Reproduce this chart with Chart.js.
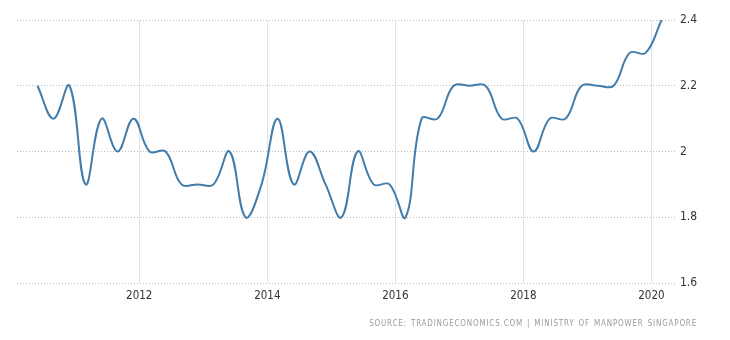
<!DOCTYPE html>
<html>
<head>
<meta charset="utf-8">
<script src="https://cdn.jsdelivr.net/npm/chart.js@4/dist/chart.umd.min.js"></script>
<style>
    html, body { margin: 0; padding: 0; background: #fff; }
    #caja { position: relative; width: 730px; height: 340px; }
    #fuente {
        position: absolute; right: 33px; top: 319px;
        font-family: "DejaVu Sans Condensed", "DejaVu Sans", sans-serif; font-size: 8px;
        letter-spacing: 0.8px; word-spacing: 1px; color: #9a9a9a; white-space: nowrap;
    }
</style>
</head>
<body>
<div id="caja">
    <canvas id="grafica" width="730" height="340"></canvas>
    <div id="fuente">SOURCE: TRADINGECONOMICS.COM | MINISTRY OF MANPOWER SINGAPORE</div>
</div>
<script>
const trimestres = [
    "2010Q2", "2010Q3", "2010Q4", "2011Q1", "2011Q2", "2011Q3", "2011Q4", "2012Q1",
    "2012Q2", "2012Q3", "2012Q4", "2013Q1", "2013Q2", "2013Q3", "2013Q4", "2014Q1",
    "2014Q2", "2014Q3", "2014Q4", "2015Q1", "2015Q2", "2015Q3", "2015Q4", "2016Q1",
    "2016Q2", "2016Q3", "2016Q4", "2017Q1", "2017Q2", "2017Q3", "2017Q4", "2018Q1",
    "2018Q2", "2018Q3", "2018Q4", "2019Q1", "2019Q2", "2019Q3", "2019Q4", "2020Q1"
];
const desempleo = [
    2.2, 2.1, 2.2, 1.9, 2.1, 2.0, 2.1, 2.0,
    2.0, 1.9, 1.9, 1.9, 2.0, 1.8, 1.9, 2.1,
    1.9, 2.0, 1.9, 1.8, 2.0, 1.9, 1.9, 1.8,
    2.1, 2.1, 2.2, 2.2, 2.2, 2.1, 2.1, 2.0,
    2.1, 2.1, 2.2, 2.2, 2.2, 2.3, 2.3, 2.4
];
const anios = [2012, 2014, 2016, 2018, 2020];
const valoresY = [1.6, 1.8, 2, 2.2, 2.4];

const letra = "'DejaVu Sans Condensed', 'DejaVu Sans', sans-serif";

function posicion(t) {
    const anio = parseInt(t.slice(0, 4));
    const q = parseInt(t.slice(5));
    return anio + (q - 1) * 0.25 + 0.16;
}

const puntos = trimestres.map((t, i) => ({ x: posicion(t), y: desempleo[i] }));

new Chart(document.querySelector("#grafica"), {
    type: "line",
    data: {
        datasets: [{
            label: "Singapore Unemployment Rate",
            data: puntos,
            borderColor: "#417cab",
            borderWidth: 2,
            pointRadius: 0,
            tension: 0.4,
            fill: false
        }]
    },
    options: {
        responsive: false,
        animation: false,
        layout: { padding: { left: 17, top: 20, right: 0, bottom: 0 } },
        plugins: { legend: { display: false }, tooltip: { enabled: false } },
        scales: {
            x: {
                type: "linear",
                min: 2010.09,
                max: 2020.4,
                afterBuildTicks: (eje) => { eje.ticks = anios.map((v) => ({ value: v })); },
                afterFit: (eje) => { eje.height = 57; },
                border: { display: false },
                grid: { color: "#e3e3e3", drawTicks: false, lineWidth: 1 },
                ticks: {
                    color: "#333",
                    font: { family: letra, size: 11.5 },
                    padding: 6,
                    maxRotation: 0,
                    callback: (v) => String(v)
                }
            },
            y: {
                position: "right",
                min: 1.6,
                max: 2.4,
                afterBuildTicks: (eje) => { eje.ticks = valoresY.map((v) => ({ value: v })); },
                afterFit: (eje) => { eje.width = 53; },
                border: { display: false, dash: [1, 2] },
                grid: { color: "#bdbdbd", drawTicks: false, lineWidth: 1 },
                ticks: {
                    color: "#333",
                    font: { family: letra, size: 12 },
                    padding: 3,
                    callback: (v) => String(v)
                }
            }
        }
    }
});
</script>
</body>
</html>
